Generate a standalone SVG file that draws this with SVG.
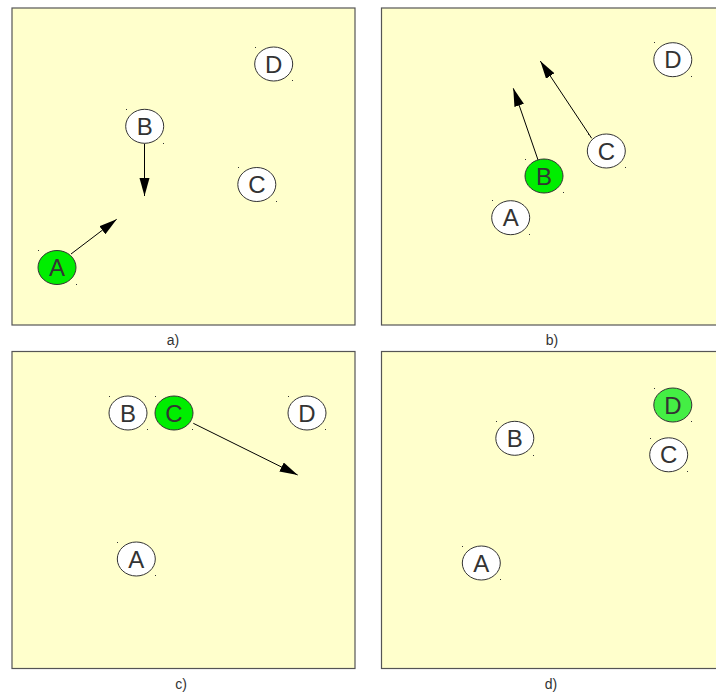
<svg xmlns="http://www.w3.org/2000/svg" width="716" height="695" viewBox="0 0 716 695">
<style>
.panel{fill:#ffffcc;stroke:#555;stroke-width:1.2}
.cap{font-family:"Liberation Sans",Arial,sans-serif;font-size:14px;fill:#333;text-anchor:middle}
.n ellipse{fill:#fff;stroke:#333;stroke-width:1}
.n.g ellipse{fill:#00ee00}
.n.g2 ellipse{fill:#44ee44}
.n text{font-family:"Liberation Sans",Arial,sans-serif;font-size:24px;fill:#333;text-anchor:middle}
.n rect{fill:#333}
.edge{stroke:#000;stroke-width:1;fill:none;marker-end:url(#ah)}
</style>
<defs>
<marker id="ah" markerUnits="userSpaceOnUse" markerWidth="20" markerHeight="12" refX="18" refY="5" orient="auto">
<path d="M0,0 L18,5 L0,10 Z" fill="#000"/>
</marker>
</defs>
<g id="panels">
<rect class="panel" x="12" y="8" width="343" height="317"/>
<rect class="panel" x="381.5" y="8" width="340" height="317"/>
<rect class="panel" x="12" y="351.5" width="343" height="317"/>
<rect class="panel" x="381.5" y="351.5" width="340" height="317"/>
<text class="cap" x="173" y="345">a)</text>
<text class="cap" x="552" y="345">b)</text>
<text class="cap" x="181" y="689">c)</text>
<text class="cap" x="551" y="689">d)</text>
</g>
<g id="connectors">
<line class="edge" x1="144.5" y1="143.5" x2="144.5" y2="196"/>
<line class="edge" x1="71" y1="254" x2="116.7" y2="219.3"/>
<line class="edge" x1="540" y1="165.7" x2="513.3" y2="88.3"/>
<line class="edge" x1="591.7" y1="138.3" x2="540.3" y2="61"/>
<line class="edge" x1="193.3" y1="423.3" x2="297.7" y2="475"/>
</g>
<g id="a-A" class="n g"><ellipse cx="57" cy="267.5" rx="19" ry="17"/><text x="57" y="276">A</text><rect x="38" y="250" width="1" height="1"/><rect x="76" y="284" width="1" height="1"/></g>
<g id="a-B" class="n"><ellipse cx="144.7" cy="126.3" rx="19" ry="17"/><text x="144.7" y="134.8">B</text><rect x="126" y="109" width="1" height="1"/><rect x="163" y="143" width="1" height="1"/></g>
<g id="a-C" class="n"><ellipse cx="256.8" cy="184.5" rx="19" ry="17"/><text x="256.8" y="193">C</text><rect x="238" y="167" width="1" height="1"/><rect x="276" y="201" width="1" height="1"/></g>
<g id="a-D" class="n"><ellipse cx="273.7" cy="64" rx="19" ry="17"/><text x="273.7" y="72.5">D</text><rect x="255" y="47" width="1" height="1"/><rect x="292" y="80" width="1" height="1"/></g>
<g id="b-A" class="n"><ellipse cx="510.7" cy="217.7" rx="19" ry="17"/><text x="510.7" y="226.2">A</text><rect x="492" y="200" width="1" height="1"/><rect x="529" y="234" width="1" height="1"/></g>
<g id="b-B" class="n g"><ellipse cx="544" cy="176" rx="19" ry="17"/><text x="544" y="184.5">B</text><rect x="525" y="159" width="1" height="1"/><rect x="563" y="192" width="1" height="1"/></g>
<g id="b-C" class="n"><ellipse cx="606.3" cy="151" rx="19" ry="17"/><text x="606.3" y="159.5">C</text><rect x="588" y="134" width="1" height="1"/><rect x="625" y="167" width="1" height="1"/></g>
<g id="b-D" class="n"><ellipse cx="672.8" cy="59.7" rx="19" ry="17"/><text x="672.8" y="68.2">D</text><rect x="654" y="42" width="1" height="1"/><rect x="691" y="76" width="1" height="1"/></g>
<g id="c-A" class="n"><ellipse cx="136.3" cy="559" rx="19" ry="17"/><text x="136.3" y="567.5">A</text><rect x="117" y="542" width="1" height="1"/><rect x="155" y="575" width="1" height="1"/></g>
<g id="c-B" class="n"><ellipse cx="128" cy="413" rx="19" ry="17"/><text x="128" y="421.5">B</text><rect x="109" y="396" width="1" height="1"/><rect x="147" y="429" width="1" height="1"/></g>
<g id="c-C" class="n g"><ellipse cx="174" cy="413" rx="19" ry="17"/><text x="174" y="421.5">C</text><rect x="155" y="396" width="1" height="1"/><rect x="192" y="429" width="1" height="1"/></g>
<g id="c-D" class="n"><ellipse cx="307" cy="413" rx="19" ry="17"/><text x="307" y="421.5">D</text><rect x="288" y="396" width="1" height="1"/><rect x="325" y="429" width="1" height="1"/></g>
<g id="d-A" class="n"><ellipse cx="481.3" cy="563" rx="19" ry="17"/><text x="481.3" y="571.5">A</text><rect x="462" y="546" width="1" height="1"/><rect x="500" y="579" width="1" height="1"/></g>
<g id="d-B" class="n"><ellipse cx="514.8" cy="438.3" rx="19" ry="17"/><text x="514.8" y="446.8">B</text><rect x="496" y="421" width="1" height="1"/><rect x="533" y="455" width="1" height="1"/></g>
<g id="d-C" class="n"><ellipse cx="668.7" cy="454.8" rx="19" ry="17"/><text x="668.7" y="463.3">C</text><rect x="650" y="438" width="1" height="1"/><rect x="687" y="471" width="1" height="1"/></g>
<g id="d-D" class="n g2"><ellipse cx="672.8" cy="405" rx="19" ry="17"/><text x="672.8" y="413.5">D</text><rect x="654" y="388" width="1" height="1"/><rect x="691" y="421" width="1" height="1"/></g>
</svg>
